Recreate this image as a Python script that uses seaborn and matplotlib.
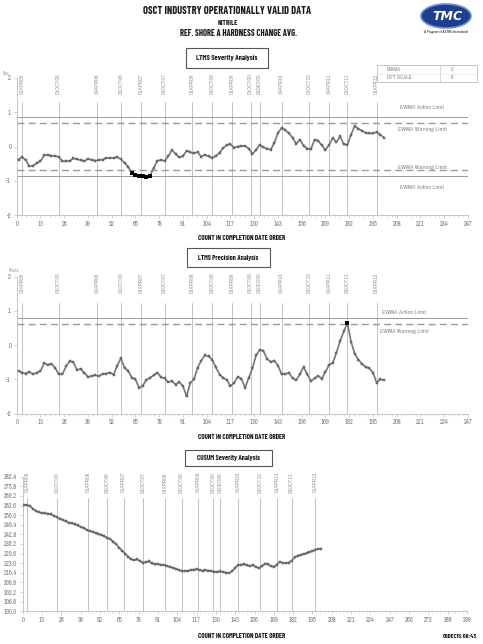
import numpy as np
import matplotlib
matplotlib.use("Agg")
import matplotlib.pyplot as plt
from matplotlib import font_manager
from matplotlib.patches import Rectangle, Ellipse
import seaborn as sns

# ---------------- data ----------------
count_x = list(range(1, 202, 2))

severity_ewma = [
    -0.38, -0.31, -0.40, -0.58, -0.56, -0.48, -0.43, -0.26, -0.24, -0.27,
    -0.28, -0.30, -0.43, -0.43, -0.42, -0.35, -0.37, -0.40, -0.43, -0.36,
    -0.39, -0.41, -0.40, -0.38, -0.34, -0.33, -0.34, -0.31, -0.37, -0.48,
    -0.59, -0.77, -0.83, -0.87, -0.86, -0.90, -0.85, -0.62, -0.42, -0.39,
    -0.42, -0.28, -0.10, -0.22, -0.32, -0.28, -0.12, -0.17, -0.20, -0.16,
    -0.30, -0.24, -0.29, -0.33, -0.28, -0.18, -0.05, 0.05, 0.06, -0.03,
    0.00, 0.01, 0.01, -0.06, -0.22, -0.10, 0.05, -0.02, -0.06, -0.09,
    0.10, 0.40, 0.54, 0.48, 0.38, 0.26, 0.08, 0.20, 0.02, -0.06,
    -0.08, 0.20, 0.17, 0.03, -0.10, 0.05, 0.25, 0.12, 0.30, 0.06,
    0.05, 0.35, 0.60, 0.52, 0.46, 0.40, 0.38, 0.38, 0.42, 0.35,
    0.26,
]

precision_ewma = [
    -0.75, -0.80, -0.83, -0.78, -0.85, -0.80, -0.76, -0.53, -0.57, -0.54,
    -0.66, -0.85, -0.85, -0.62, -0.47, -0.50, -0.72, -0.70, -0.80, -0.93,
    -0.90, -0.88, -0.91, -0.84, -0.83, -0.80, -0.86, -0.60, -0.38, -0.66,
    -0.75, -0.95, -1.00, -1.25, -1.18, -1.02, -0.95, -0.88, -0.80, -0.94,
    -0.97, -1.08, -1.05, -1.15, -1.08, -1.20, -1.50, -1.10, -1.00, -0.66,
    -0.45, -0.30, -0.33, -0.42, -0.65, -0.86, -0.95, -1.02, -1.20, -1.10,
    -0.92, -0.98, -1.25, -0.95, -0.68, -0.30, -0.14, -0.16, -0.40, -0.49,
    -0.45, -0.60, -0.85, -0.85, -0.80, -0.97, -1.02, -0.85, -0.64, -0.85,
    -1.05, -0.97, -0.90, -0.98, -0.78, -0.57, -0.52, -0.22, 0.12, 0.40,
    0.64, 0.10, -0.25, -0.42, -0.55, -0.64, -0.68, -0.80, -1.10, -1.00,
    -1.02,
]

cusum_severity = [
    263.0, 262.8, 262.2, 260.2, 258.8, 258.0, 257.4, 257.2, 257.0, 256.5,
    255.6, 254.6, 253.6, 252.8, 251.8, 250.9, 250.4, 249.6, 248.9, 248.0,
    247.1, 246.0, 245.2, 244.6, 243.9, 243.2, 242.5, 241.5, 240.5, 239.4,
    237.8, 236.0, 233.6, 231.6, 229.6, 227.6, 225.6, 225.1, 225.6, 224.6,
    223.4, 223.6, 224.2, 222.9, 222.2, 222.3, 222.0, 221.7, 221.2, 220.6,
    220.0, 219.2, 218.4, 217.7, 217.6, 217.8, 218.2, 218.6, 218.8, 218.3,
    217.8, 218.2, 218.0, 217.6, 217.3, 216.8, 217.4, 217.0, 216.6, 216.2,
    217.6, 220.0, 221.6, 222.0, 222.2, 221.5, 221.2, 221.6, 220.6, 219.6,
    221.0, 222.8, 222.2, 221.0, 220.6, 222.0, 224.0, 223.2, 223.0, 223.4,
    224.8, 227.0, 228.2, 228.8, 229.4, 229.8, 230.6, 231.2, 232.2, 232.8,
    233.0,
]

event_x = [3, 23, 44, 57, 68, 81, 96, 107, 118, 128, 133, 145, 160, 171, 181, 197]
event_labels = ["01APR05", "01OCT05", "01APR06", "01OCT06", "01APR07", "01OCT07",
                "01APR08", "01OCT08", "01APR09", "01OCT09", "01DEC09", "01APR10",
                "01OCT10", "01APR11", "01OCT11", "01APR12"]

xticks_12 = list(range(0, 248, 13))
xticks_3 = list(range(0, 300, 13))
yticks_12 = [-2, -1, 0, 1, 2]
yticks_3 = [190.0, 196.6, 203.2, 209.8, 216.4, 223.0, 229.6, 236.2,
            242.8, 249.4, 256.0, 262.6, 269.2, 275.8, 282.4]

sev_action, sev_warning = 0.85, 0.70
prec_action, prec_warning = 0.79, 0.62

# ---------------- style ----------------
sns.set_theme(style="white")
available = {f.name for f in font_manager.fontManager.ttflist}
NARROW = "DejaVu Sans"
for cand in ["Liberation Sans Narrow", "Archivo Narrow", "Barlow Condensed"]:
    if cand in available:
        NARROW = cand
        break
HEAD = NARROW
for cand in ["Barlow Condensed", "Archivo Narrow", "Liberation Sans Narrow"]:
    if cand in available:
        HEAD = cand
        break
FAM = [NARROW, "DejaVu Sans"]
HFAM = [HEAD, "DejaVu Sans"]
plt.rcParams["font.family"] = FAM

W, H = 483, 644
fig = plt.figure(figsize=(W / 100, H / 100), dpi=100)
fig.patch.set_facecolor("white")
renderer = fig.canvas.get_renderer()

LINE_C = "#777777"
GRID_C = "#b8b8b8"
LIM_C = "#9a9a9a"
TXT_C = "#777777"


def px_axes(left, top, right, bottom):
    return fig.add_axes([left / W, 1 - bottom / H, (right - left) / W, (bottom - top) / H])


def style_axes(ax, xt, yt, xlim, ylim, yfmt):
    ax.set_xlim(*xlim)
    ax.set_ylim(*ylim)
    ax.set_xticks(xt)
    ax.set_xticklabels([str(v) for v in xt])
    ax.set_yticks(yt)
    ax.set_yticklabels([yfmt(v) for v in yt])
    ax.set_xticks(np.arange(xlim[0], xlim[1] + 0.1, 13 / 5), minor=True)
    for s in ["top", "right"]:
        ax.spines[s].set_visible(False)
    for s in ["left", "bottom"]:
        ax.spines[s].set_color("#bdbdbd")
        ax.spines[s].set_linewidth(0.6)
    ax.tick_params(axis="both", which="major", labelsize=4.6, colors="#bdbdbd",
                   labelcolor=TXT_C, length=2.5, width=0.5, pad=1.5, direction="out",
                   left=True, bottom=True)
    ax.tick_params(axis="both", which="minor", colors="#c8c8c8", length=1.5, width=0.4,
                   left=True, bottom=True)
    ax.set_xlabel("")
    ax.set_ylabel("")
    ax.set_facecolor("none")


def draw_events(ax, line_top, lab_top, ymin):
    for xv, lab in zip(event_x, event_labels):
        ax.plot([xv, xv], [ymin, line_top], color=GRID_C, lw=0.6, zorder=1)
        ax.text(xv, lab_top, lab, rotation=90, ha="center", va="top", fontsize=4.2,
                color="#999999")


def draw_series(ax, xs, ys, mask):
    sns.lineplot(x=xs, y=ys, ax=ax, color=LINE_C, lw=1.2, marker="s", markersize=2.0,
                 markeredgewidth=0.3, markeredgecolor="#505050", estimator=None,
                 sort=False, zorder=3)
    xs = np.asarray(xs)
    ys = np.asarray(ys)
    m = np.asarray(mask)
    i = 0
    while i < len(m):
        if m[i]:
            j = i
            while j + 1 < len(m) and m[j + 1]:
                j += 1
            seg = slice(i, j + 1)
            sns.lineplot(x=xs[seg], y=ys[seg], ax=ax, color="black", lw=1.3, marker="s",
                         markersize=2.2, markeredgewidth=0, estimator=None, sort=False,
                         zorder=4)
            i = j + 1
        else:
            i += 1


# ---------------- panel 1: severity ----------------
ax1 = px_axes(16.7, 78, 468, 215)
draw_events(ax1, 1.3, 2.13, -2)
for v, ls, lw in [(sev_action, "-", 0.7), (sev_warning, (0, (5, 3)), 1.0),
                  (-sev_warning, (0, (5, 3)), 1.0), (-sev_action, "-", 0.7)]:
    ax1.axhline(v, color=LIM_C, ls=ls, lw=lw, zorder=2)
draw_series(ax1, count_x, severity_ewma, [abs(v) > sev_warning for v in severity_ewma])
style_axes(ax1, xticks_12, yticks_12, (0, 247), (-2, 2), lambda v: str(v))
for yv, t in [(1.15, "EWMA Action Limit"), (0.5, "EWMA Warning Limit"),
              (-0.6, "EWMA Warning Limit"), (-1.2, "EWMA Action Limit")]:
    ax1.text(222, yv, t, fontsize=4.4, color="#8a8a8a", ha="center", va="center")

# ---------------- panel 2: precision ----------------
ax2 = px_axes(16.7, 276.7, 468, 413.6)
draw_events(ax2, 1.23, 2.13, -2)
ax2.axhline(prec_action, color=LIM_C, ls="-", lw=0.7, zorder=2)
ax2.axhline(prec_warning, color=LIM_C, ls=(0, (5, 3)), lw=1.0, zorder=2)
draw_series(ax2, count_x, precision_ewma, [v > prec_warning for v in precision_ewma])
style_axes(ax2, xticks_12, yticks_12, (0, 247), (-2, 2), lambda v: str(v))
for yv, t in [(0.94, "EWMA Action Limit"), (0.39, "EWMA Warning Limit")]:
    ax2.text(212, yv, t, fontsize=4.4, color="#8a8a8a", ha="center", va="center")

# ---------------- panel 3: CUSUM ----------------
ax3 = px_axes(22.7, 476.7, 467, 611.3)
draw_events(ax3, 267.8, 285.6, 190)
draw_series(ax3, count_x, cusum_severity, [False] * len(cusum_severity))
style_axes(ax3, xticks_3, yticks_3, (0, 299), (190, 282.4), lambda v: f"{v:.1f}")

# ---------------- overlay: titles, boxes, logo ----------------
ov = fig.add_axes([0, 0, 1, 1], zorder=10)
ov.set_xlim(0, W)
ov.set_ylim(H, 0)
ov.axis("off")
ov.patch.set_alpha(0)


def fit_text(x, y, s, target_w, max_size=12, **kw):
    t = ov.text(x, y, s, fontsize=10, **kw)
    w = t.get_window_extent(renderer=renderer).width
    if w > 0:
        t.set_fontsize(min(max_size, 10 * target_w / w))
    return t


HK = dict(fontweight="bold", color="#1a1a1a", family=HFAM)
fit_text(227, 11, "OSCT INDUSTRY OPERATIONALLY VALID DATA", 167, ha="center",
         va="center", **HK)
fit_text(228, 22.5, "NITRILE", 20, ha="center", va="center", **HK)
fit_text(239, 33, "REF. SHORE A HARDNESS CHANGE AVG.", 118, ha="center", va="center", **HK)

for (cx, cy, w, h, t, tw) in [(227, 58, 82, 20, "LTMS Severity Analysis", 61),
                              (228.5, 257.5, 83, 19, "LTMS Precision Analysis", 60),
                              (228.5, 457.5, 87, 16, "CUSUM Severity Analysis", 63)]:
    ov.add_patch(Rectangle((cx - w / 2, cy - h / 2), w, h, fill=False,
                           ec="#555555", lw=0.8))
    fit_text(cx, cy, t, tw, ha="center", va="center", **HK)

for y in (238, 437, 636):
    fit_text(242, y, "COUNT IN COMPLETION DATE ORDER", 89, ha="center", va="center", **HK)

fit_text(477, 637, "05DEC15:09:43", 34, ha="right", va="center", **HK)

# small y-axis captions
ov.text(3, 73, "Sev.", fontsize=3.2, color="#999999", va="center")
ov.text(9, 270, "Precis.", fontsize=3.2, color="#999999", va="center")

# info box
ov.add_patch(Rectangle((377, 65), 100, 17, fill=False, ec="#bbbbbb", lw=0.6))
ov.plot([440, 440], [65, 82], color="#cccccc", lw=0.5)
ov.plot([377, 477], [73.5, 73.5], color="#e0e0e0", lw=0.4)
ov.text(387, 69.3, "EWMA", fontsize=4.0, color="#888888", va="center")
ov.text(387, 77.8, "DFT SCALE", fontsize=4.0, color="#888888", va="center")
ov.text(452, 69.3, "0", fontsize=4.0, color="#888888", va="center", ha="center")
ov.text(452, 77.8, "8", fontsize=4.0, color="#888888", va="center", ha="center")

# logo
ov.add_patch(Ellipse((446, 16), 50, 24, fc="#1c3f94", ec="#6f8fd0", lw=1.2))
ov.text(447, 16.5, "TMC", ha="center", va="center", fontsize=9, fontweight="bold",
        fontstyle="italic", color="white", family=["DejaVu Sans"])
fit_text(446, 32, "A Program of ASTM International", 44, ha="center", va="center",
         color="#222222", fontweight="bold")

fig.savefig("out.png", dpi=100, facecolor="white")
